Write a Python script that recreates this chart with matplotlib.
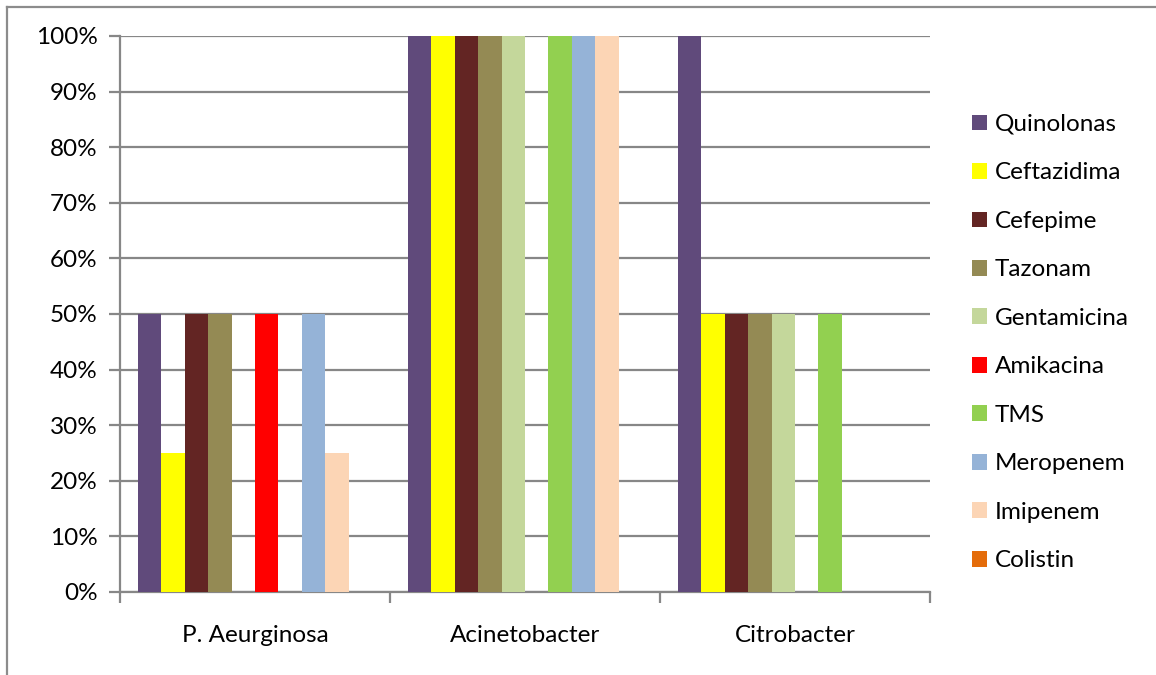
import matplotlib
matplotlib.use("Agg")
import matplotlib.pyplot as plt
from matplotlib.lines import Line2D
from matplotlib.patches import Patch
import numpy as np

plt.rcParams['font.family'] = ['Lato', 'DejaVu Sans']

categories = ["P. Aeurginosa", "Acinetobacter", "Citrobacter"]
antibiotics = ["Quinolonas", "Ceftazidima", "Cefepime", "Tazonam", "Gentamicina",
               "Amikacina", "TMS", "Meropenem", "Imipenem", "Colistin"]
colors = ["#604A7B", "#FFFF00", "#632523", "#948A54", "#C4D79B",
          "#FF0000", "#92D050", "#95B3D7", "#FCD5B5", "#E46C0A"]

# Resistance (%) per antibiotic, one value per organism
quinolonas = [50, 100, 100]
ceftazidima = [25, 100, 50]
cefepime = [50, 100, 50]
tazonam = [50, 100, 50]
gentamicina = [0, 100, 50]
amikacina = [50, 0, 0]
tms = [0, 100, 50]
meropenem = [50, 100, 0]
imipenem = [25, 100, 0]
colistin = [0, 0, 0]

series = [quinolonas, ceftazidima, cefepime, tazonam, gentamicina,
          amikacina, tms, meropenem, imipenem, colistin]

W, H = 1156, 675
FS = 17.5
fig = plt.figure(figsize=(W / 100, H / 100), dpi=100)
ax = fig.add_axes([120 / W, 1 - 592 / H, 810 / W, 556 / H])

n = len(series)
gap = 1.5  # gap between clusters, in bar widths
bw = 1.0 / (n + gap)
x = np.arange(len(categories))
for i, (vals, col) in enumerate(zip(series, colors)):
    pos = x - 0.5 + (gap / 2 + i + 0.5) * bw
    ax.bar(pos, vals, width=bw, color=col, linewidth=0, zorder=3)

grid_c = "#878787"
ax.set_xlim(-0.5, len(categories) - 0.5)
ax.set_ylim(0, 100)
ax.set_yticks(np.arange(0, 101, 10))
ax.set_yticklabels([f"{v}%" for v in range(0, 101, 10)])
ax.yaxis.grid(True, color=grid_c, linewidth=1.6, zorder=1)
ax.set_axisbelow(True)

# category labels centered, tick marks on category boundaries
ax.set_xticks(x)
ax.set_xticklabels(categories)
ax.set_xticks(np.arange(-0.5, len(categories), 1), minor=True)
ax.tick_params(axis='x', which='major', length=0, pad=24, labelsize=FS, colors="black")
ax.tick_params(axis='x', which='minor', length=8, width=1.6, color=grid_c, direction='out')
ax.tick_params(axis='y', length=8, width=1.6, color=grid_c, direction='out', pad=8,
               labelsize=FS)

for side in ("top", "right"):
    ax.spines[side].set_visible(False)
for side in ("left", "bottom"):
    ax.spines[side].set_color(grid_c)
    ax.spines[side].set_linewidth(1.6)

handles = [Patch(facecolor=c, edgecolor='none') for c in colors]
fig.legend(handles, antibiotics, loc="upper left",
           bbox_to_anchor=(972 / W, 1 - 114 / H),
           frameon=False, fontsize=FS, handlelength=0.62, handleheight=0.62,
           handletextpad=0.33, labelspacing=1.13, borderaxespad=0, borderpad=0)

# outer chart border (left and top edges visible)
fig.add_artist(Line2D([7 / W, 7 / W], [0, 1 - 7 / H], color="#8C8C8C", linewidth=1.6,
                      transform=fig.transFigure))
fig.add_artist(Line2D([7 / W, 1], [1 - 7 / H, 1 - 7 / H], color="#8C8C8C", linewidth=1.6,
                      transform=fig.transFigure))

fig.savefig("out.png", dpi=100, facecolor="white")
